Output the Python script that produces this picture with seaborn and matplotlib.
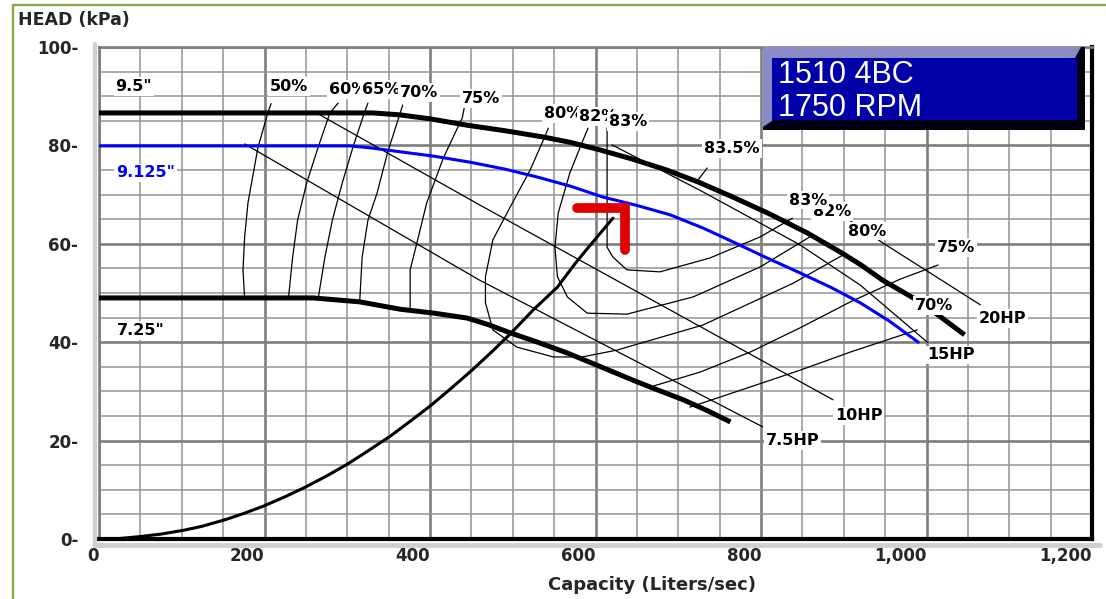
import matplotlib
matplotlib.use("Agg")
import matplotlib.pyplot as plt
import seaborn as sns
from matplotlib.patches import Rectangle, Polygon
from matplotlib.lines import Line2D
from matplotlib.ticker import MultipleLocator

sns.set_style("white")
plt.rcParams['font.family'] = ['DejaVu Sans']

# ---------------- data ----------------
# impeller curves
imp95_x = [0, 331, 364, 400, 445, 490, 537, 570, 605, 645, 686, 725, 766, 810, 856, 896, 920, 947, 984, 1015, 1046]
imp95_y = [86.6, 86.6, 86.2, 85.4, 84.1, 83.0, 81.7, 80.6, 79.1, 77.2, 75.0, 72.5, 69.5, 66.1, 62.2, 58.3, 55.8, 52.6, 49.0, 45.4, 41.5]
imp9125_x = [0, 303, 328, 364, 405, 448, 490, 529, 570, 609, 650, 690, 730, 766, 805, 847, 885, 920, 955, 990]
imp9125_y = [79.9, 79.9, 79.5, 78.7, 77.8, 76.6, 75.2, 73.6, 71.7, 69.5, 67.8, 65.9, 63.2, 60.4, 57.3, 54.1, 51.1, 48.0, 44.3, 40.0]
imp725_x = [0, 259, 315, 364, 405, 445, 470, 497, 530, 566, 605, 645, 675, 706, 735, 763]
imp725_y = [49.0, 49.0, 48.2, 46.7, 45.9, 44.9, 43.6, 41.9, 40.0, 37.8, 35.1, 32.3, 30.3, 28.3, 26.1, 23.8]

# efficiency contours
eff50_x = [208, 204, 192, 180, 176, 174, 176]
eff50_y = [88.5, 86.6, 79.5, 68.3, 61.4, 54.7, 49.0]
eff60_x = [289, 279, 265, 251, 240, 234, 229]
eff60_y = [88.6, 86.6, 79.7, 72.4, 64.8, 57.3, 49.0]
eff65_x = [325, 321, 307, 294, 282, 273, 265]
eff65_y = [88.6, 86.8, 79.7, 72.4, 64.8, 57.3, 49.0]
eff70_x = [367, 364, 349, 336, 325, 318, 315]
eff70_y = [88.2, 86.6, 78.7, 70.3, 64.8, 57.3, 48.2]
eff75_x = [442, 439, 416, 396, 382, 376, 376]
eff75_y = [88.2, 85.6, 77.4, 68.3, 58.7, 54.7, 46.4]
eff80_x = [543, 537, 521, 497, 476, 467, 467, 476, 505, 549, 584, 626, 730, 839, 903]
eff80_y = [83.5, 81.1, 75.0, 67.5, 60.8, 53.3, 48.0, 42.5, 39.0, 37.0, 37.0, 38.4, 43.5, 52.0, 58.1]
eff82_x = [591, 585, 569, 555, 551, 554, 566, 590, 638, 718, 799, 859]
eff82_y = [83.5, 81.1, 74.4, 66.3, 59.3, 53.3, 49.2, 45.9, 45.7, 49.2, 55.3, 61.4]
eff83_x = [614, 614, 614, 621, 638, 678, 738, 799, 838]
eff83_y = [83.5, 80.5, 59.3, 57.3, 54.7, 54.3, 57.1, 61.4, 65.2]
eff835_x = [724, 735]
eff835_y = [73.0, 75.4]
eff75r_x = [666, 726, 787, 847, 908, 968, 1014]
eff75r_y = [30.9, 33.9, 38.0, 42.9, 48.2, 52.8, 55.7]
eff70r_x = [714, 787, 847, 908, 989]
eff70r_y = [26.8, 30.9, 34.3, 38.0, 42.5]

# power lines
hp75_x = [176, 460, 802]
hp75_y = [80.3, 52.6, 22.8]
hp10_x = [267, 460, 887]
hp10_y = [86.2, 67.9, 28.3]
hp15_x = [620, 726, 847, 920, 1001]
hp15_y = [80.1, 70.9, 59.8, 51.6, 40.0]
hp20_x = [871, 947, 1065]
hp20_y = [68.9, 60.2, 47.6]

# system curve
sys_x = [0, 25, 50, 75, 103, 125, 154, 175, 199, 225, 250, 275, 301, 325, 352, 375, 400,
         424, 450, 475, 497, 525, 554, 575, 590, 605, 621]
sys_y = [0, 0.1, 0.5, 1.0, 1.8, 2.6, 4.0, 5.2, 6.7, 8.6, 10.6, 12.8, 15.3, 17.9, 20.9, 23.8, 27.0,
         30.4, 34.2, 38.1, 41.7, 46.6, 51.2, 55.9, 59.0, 62.0, 65.2]

# operating point marker
op_x = [578, 636, 636]
op_y = [67.3, 67.3, 58.7]

# ticks
x_ticks = [0, 200, 400, 600, 800, 1000, 1200]
y_ticks = [0, 20, 40, 60, 80, 100]

# label texts
label_texts = ['9.5"', '9.125"', '7.25"', '50%', '60%', '65%', '70%', '75%', '80%', '82%', '83%',
               '83.5%', '82%', '83%', '80%', '75%', '70%', '20HP', '15HP', '10HP', '7.5HP']
label_pos = [(42, 91.9), (56, 74.4), (50, 42.3), (230, 91.9), (301, 91.3), (341, 91.3), (387, 90.7),
             (462, 89.6), (561, 86.4), (603, 85.8), (639, 84.8), (765, 79.3), (886, 66.5),
             (857, 68.9), (928, 62.6), (1036, 59.3), (1009, 47.4), (1092, 44.9), (1030, 37.4),
             (918, 25.0), (838, 20.1)]

# ---------------- figure ----------------
W, H = 1106, 599
fig = plt.figure(figsize=(W / 100, H / 100), dpi=100)
ax = fig.add_axes([99 / W, 60 / H, 993 / W, 492 / H])
ax.set_xlim(0, 1200)
ax.set_ylim(0, 100)
ax.xaxis.set_major_locator(MultipleLocator(200))
ax.xaxis.set_minor_locator(MultipleLocator(50))
ax.yaxis.set_major_locator(MultipleLocator(20))
ax.yaxis.set_minor_locator(MultipleLocator(5))
ax.set_axisbelow(True)
ax.grid(which='major', color='#7d7d7d', lw=1.9)
ax.grid(which='minor', color='#939393', lw=1.1)

for s in ['left', 'top']:
    ax.spines[s].set_color('#7d7d7d')
    ax.spines[s].set_linewidth(1.9)
for s in ['right', 'bottom']:
    ax.spines[s].set_color('black')
    ax.spines[s].set_linewidth(3.0)

ax.set_xticks(x_ticks)
ax.set_xticklabels([f"{v:,}" for v in x_ticks], fontsize=12, fontweight='bold')
for lbl in ax.get_xticklabels():
    lbl.set_ha('right')
ax.set_yticks(y_ticks)
ax.set_yticklabels([f"{v}-" for v in y_ticks], fontsize=12, fontweight='bold')
ax.tick_params(axis='both', which='both', length=0)
ax.tick_params(axis='x', pad=6)
ax.tick_params(axis='y', pad=15)
ax.set_xlabel("")
ax.set_ylabel("")


def line(xs, ys, color='black', lw=0.9, z=3, **kw):
    sns.lineplot(x=xs, y=ys, sort=False, estimator=None, color=color, lw=lw,
                 ax=ax, legend=False, zorder=z, **kw)


# thin lines: efficiency + power
for xs, ys in [(eff50_x, eff50_y), (eff60_x, eff60_y), (eff65_x, eff65_y), (eff70_x, eff70_y),
               (eff75_x, eff75_y), (eff80_x, eff80_y), (eff82_x, eff82_y), (eff83_x, eff83_y),
               (eff835_x, eff835_y), (eff75r_x, eff75r_y), (eff70r_x, eff70r_y),
               (hp75_x, hp75_y), (hp10_x, hp10_y), (hp15_x, hp15_y), (hp20_x, hp20_y)]:
    line(xs, ys)

# impeller curves
line(imp95_x, imp95_y, lw=3.6, z=4, solid_capstyle='butt')
line(imp725_x, imp725_y, lw=3.6, z=4, solid_capstyle='butt')
line(imp9125_x, imp9125_y, color='#0000ff', lw=2.2, z=4)
# system curve
line(sys_x, sys_y, lw=2.2, z=4)
# operating point
line(op_x, op_y, color='#e00000', lw=7.0, z=7, solid_capstyle='round', solid_joinstyle='miter')

# labels
for t, (lx, ly) in zip(label_texts, label_pos):
    col = '#0000ff' if t == '9.125"' else 'black'
    ax.text(lx, ly, t, ha='center', va='center', fontsize=11.5, fontweight='bold', color=col,
            zorder=6, bbox=dict(boxstyle='square,pad=0.12', fc='white', ec='none'))

# shadows around plot frame
fig.add_artist(Line2D([94.5 / W, 94.5 / W], [1 - 44 / H, 1 - 546 / H], color='#cfcfcf', lw=3))
fig.add_artist(Line2D([95 / W, 1100 / W], [1 - 544.5 / H, 1 - 544.5 / H], color='#cfcfcf', lw=3.5))

# green frame
green = '#88aa3a'
fig.add_artist(Line2D([13 / W, 1.0], [1 - 5 / H, 1 - 5 / H], color=green, lw=1.7))
fig.add_artist(Line2D([13 / W, 13 / W], [0, 1 - 5 / H], color=green, lw=1.7))

# title & x label
fig.text(18 / W, 1 - 20 / H, "HEAD (kPa)", fontsize=12.5, fontweight='bold', ha='left', va='center')
fig.text(652 / W, 1 - 585 / H, "Capacity (Liters/sec)", fontsize=13, fontweight='bold',
         ha='center', va='center')

# info box
bax = fig.add_axes([763 / W, 1 - 130 / H, 322 / W, 83 / H])
bax.set_xlim(0, 322)
bax.set_ylim(83, 0)
bax.axis('off')
bax.add_patch(Rectangle((0, 0), 322, 83, fc='#000010', ec='none'))
bax.add_patch(Polygon([(0, 0), (318, 0), (312, 11), (9, 11), (9, 74), (0, 80)], fc='#8a8ac4', ec='none'))
bax.add_patch(Rectangle((9, 11), 305, 62, fc='#0000a8', ec='none'))
bax.text(15, 36, "1510 4BC", color='white', fontsize=22, family='Liberation Sans', ha='left', va='baseline')
bax.text(15, 69, "1750 RPM", color='white', fontsize=22, family='Liberation Sans', ha='left', va='baseline')

fig.savefig("out.png", dpi=100)
